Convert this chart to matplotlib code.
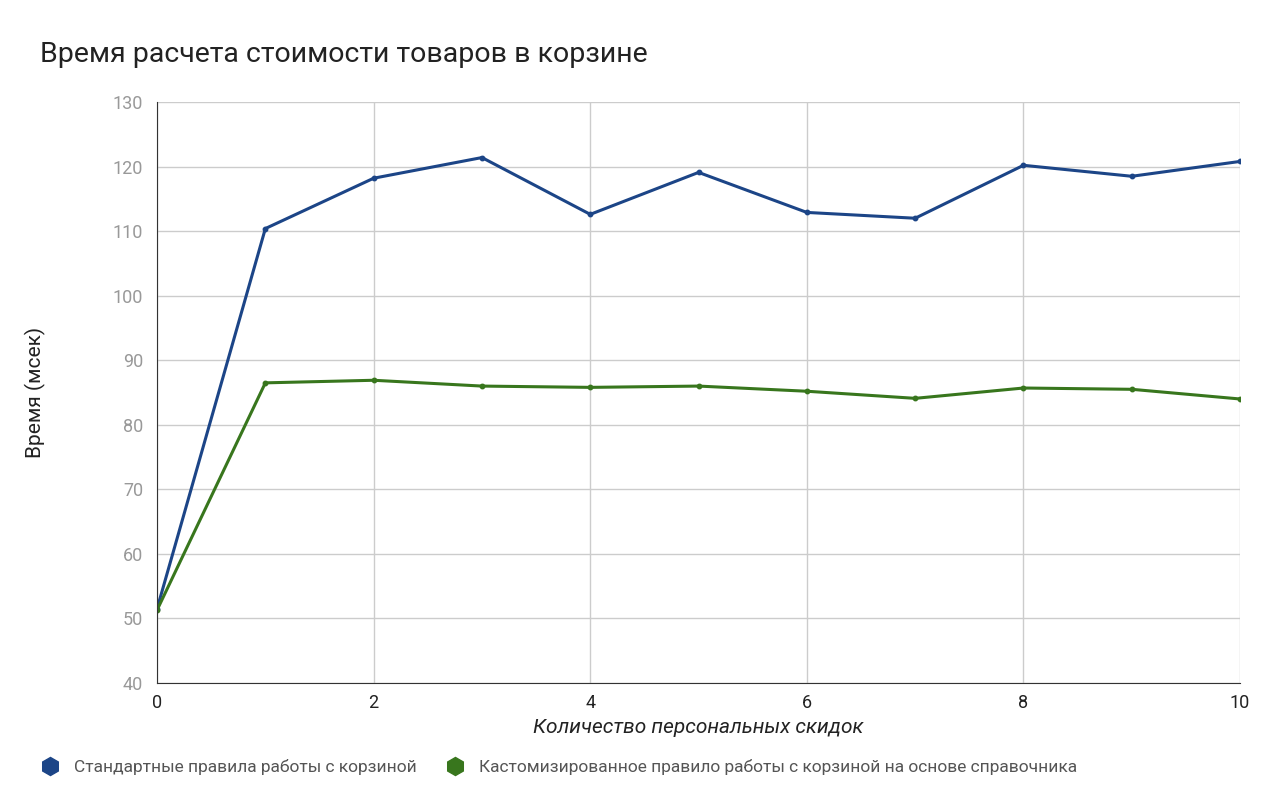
import matplotlib
matplotlib.use("Agg")
import matplotlib.pyplot as plt
from matplotlib.lines import Line2D

plt.rcParams["font.family"] = "Roboto"

x = [0, 1, 2, 3, 4, 5, 6, 7, 8, 9, 10]
standard = [51.5, 110.4, 118.2, 121.4, 112.6, 119.1, 112.9, 112.0, 120.2, 118.5, 120.8]
custom = [51.3, 86.5, 86.9, 86.0, 85.8, 86.0, 85.2, 84.1, 85.7, 85.5, 84.0]
labels = ["Стандартные правила работы с корзиной",
          "Кастомизированное правило работы с корзиной на основе справочника"]
colors = ["#1c4587", "#38761d"]

fig = plt.figure(figsize=(12.8, 7.91), dpi=100)
ax = fig.add_axes([0.1227, 0.1365, 0.8461, 0.7345])
for ys, c in zip([standard, custom], colors):
    ax.plot(x, ys, color=c, lw=2.2, marker="o", ms=3.2)
ax.set_xlim(0, 10)
ax.set_ylim(40, 130)
ax.set_xticks(range(0, 11, 2))
ax.set_yticks(range(40, 131, 10))
ax.grid(True, color="#cccccc", lw=1)
for s in ["top", "right"]:
    ax.spines[s].set_visible(False)
ax.spines["left"].set_color("#333333")
ax.spines["bottom"].set_color("#333333")
ax.tick_params(axis="y", colors="#999999", labelsize=13, length=0, pad=10)
ax.tick_params(axis="x", colors="#222222", labelsize=13, length=0, pad=8)
ax.set_xlabel("Количество персональных скидок", fontsize=15, style="italic", color="#222222", labelpad=4)
ax.set_ylabel("Время (мсек)", fontsize=15, color="#222222")
ax.yaxis.set_label_coords(-0.103, 0.5)
fig.text(0.031, 0.922, "Время расчета стоимости товаров в корзине", fontsize=20.5, color="#222222")
handles = [Line2D([], [], ls="", marker="h", ms=13, color=c) for c in colors]
fig.legend(handles, labels, loc="lower left", bbox_to_anchor=(0.013, 0.0), ncol=2, frameon=False,
           fontsize=12.5, labelcolor="#555555", handletextpad=0.4, columnspacing=1.2)
fig.savefig("out.png")
